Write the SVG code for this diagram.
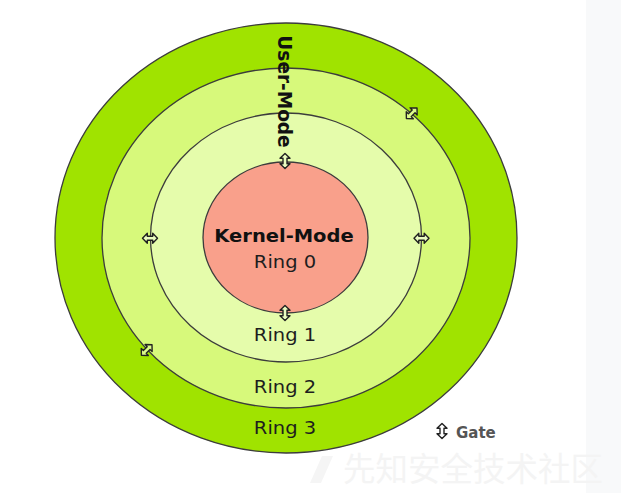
<svg xmlns="http://www.w3.org/2000/svg" width="621" height="493" viewBox="0 0 621 493">
  <style>
    .ring { stroke: #3c3c3c; stroke-width: 1.3; }
    .lbl { font-family: "DejaVu Sans", "Liberation Sans", sans-serif; font-size: 19.5px; text-anchor: middle; fill: #1e1e1e; }
    .bold { font-weight: bold; fill: #111; }
    .gate { stroke: #222; stroke-width: 1.4; stroke-linejoin: round; }
    .wm { font-family: "Noto Sans CJK SC", sans-serif; font-size: 32.5px; fill: #f4f4f4; }
  </style>
  <defs>
    <polygon id="gateShape" points="0,-7.5 5,-2.7 2,-2.7 2,2.7 5,2.7 0,7.5 -5,2.7 -2,2.7 -2,-2.7 -5,-2.7"/>
  </defs>
  <rect x="0" y="0" width="621" height="493" fill="#ffffff"/>
  <rect x="586" y="0" width="35" height="493" fill="#f8f9fa"/>

  <g id="watermark">
    <polygon points="322,456 333,456 321,483 310,483" fill="#f5f5f5"/>
    <text class="wm" x="343" y="481">先知安全技术社区</text>
  </g>

  <g id="ring3">
    <ellipse class="ring" cx="286" cy="238" rx="231" ry="215" fill="#a0e300"/>
    <text class="lbl" transform="translate(285,434) scale(1,0.92)">Ring 3</text>
  </g>
  <g id="ring2">
    <ellipse class="ring" cx="286" cy="238" rx="184" ry="170" fill="#d7f97b"/>
    <text class="lbl" transform="translate(285,392.5) scale(1,0.92)">Ring 2</text>
  </g>
  <g id="ring1">
    <ellipse class="ring" cx="286" cy="237.5" rx="135.5" ry="124.5" fill="#e5fcab"/>
    <text class="lbl" transform="translate(285,341) scale(1,0.92)">Ring 1</text>
  </g>
  <g id="ring0">
    <ellipse class="ring" cx="285.5" cy="237.5" rx="82.5" ry="75.5" fill="#f9a08b"/>
    <text class="lbl bold" transform="translate(284,242) scale(1,0.92)">Kernel-Mode</text>
    <text class="lbl" transform="translate(285,268) scale(1,0.92)">Ring 0</text>
  </g>
  <g id="usermode">
    <text class="lbl bold" transform="translate(278,91.5) rotate(90) scale(0.95,1)">User-Mode</text>
  </g>

  <g id="gates">
    <use href="#gateShape" class="gate" fill="#eafcc0" transform="translate(285,161)"/>
    <use href="#gateShape" class="gate" fill="#eafcc0" transform="translate(285,313)"/>
    <use href="#gateShape" class="gate" fill="#eafcc0" transform="translate(150,238.3) rotate(90)"/>
    <use href="#gateShape" class="gate" fill="#eafcc0" transform="translate(421.5,238.3) rotate(90)"/>
    <use href="#gateShape" class="gate" fill="#dcfa8a" transform="translate(411.7,113.3) rotate(45)"/>
    <use href="#gateShape" class="gate" fill="#dcfa8a" transform="translate(146.7,350) rotate(45)"/>
  </g>

  <g id="legend">
    <use href="#gateShape" class="gate" fill="#ffffff" transform="translate(442,431)"/>
    <text x="456" y="437.5" font-family="DejaVu Sans, sans-serif" font-size="15" font-weight="bold" fill="#555">Gate</text>
  </g>
</svg>
